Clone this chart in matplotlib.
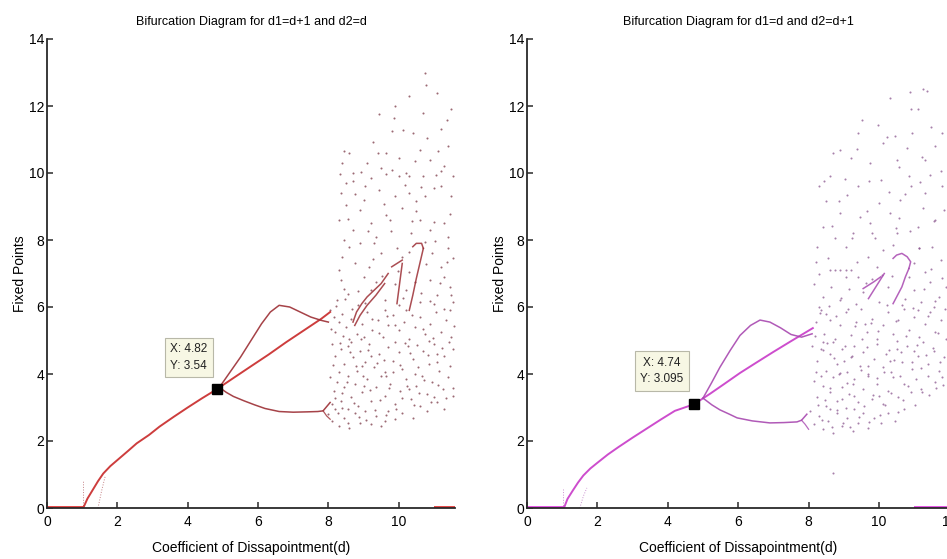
import matplotlib.pyplot as plt
import numpy as np

plt.rcParams['font.family'] = ['Liberation Sans', 'DejaVu Sans']

# ---- left panel data (d1=d+1, d2=d) ----
L_zero_x = [[0.0, 1.03], [11.0, 11.6]]
L_main_x = [1.03, 1.15, 1.3, 1.45, 1.6, 1.8, 2.0, 2.3, 2.55, 2.9, 3.2, 3.6, 4.0, 4.4, 4.82, 5.3, 5.77, 6.3, 6.8, 7.3, 7.8, 8.05]
L_main_y = [0.0, 0.28, 0.54, 0.8, 1.03, 1.25, 1.43, 1.7, 1.93, 2.18, 2.43, 2.72, 3.0, 3.27, 3.54, 3.88, 4.21, 4.58, 4.95, 5.3, 5.65, 5.85]
L_up_x = [4.9, 5.2, 5.5, 5.8, 6.1, 6.35, 6.6, 6.9, 7.2, 7.5, 7.8, 8.0]
L_up_y = [3.6, 4.05, 4.5, 5.0, 5.5, 5.85, 6.05, 6.0, 5.85, 5.7, 5.6, 5.55]
L_lo_x = [4.9, 5.1, 5.3, 5.6, 5.9, 6.2, 6.6, 7.0, 7.4, 7.7, 7.85, 8.05]
L_lo_y = [3.6, 3.45, 3.33, 3.2, 3.08, 2.97, 2.88, 2.86, 2.87, 2.88, 2.9, 3.15]
L_lo2_x = [7.85, 7.95, 8.05]
L_lo2_y = [2.9, 2.75, 2.65]
L_win = [
    ([8.7, 8.8, 8.95, 9.1, 9.3, 9.5, 9.7], [5.55, 5.85, 6.1, 6.3, 6.5, 6.7, 7.0]),
    ([8.75, 8.9, 9.1, 9.35, 9.6], [5.45, 5.75, 6.05, 6.35, 6.7]),
    ([9.8, 9.95, 10.1], [7.2, 7.3, 7.4]),
    ([10.1, 10.05, 10.0, 9.95], [7.3, 6.9, 6.5, 6.1]),
    ([10.4, 10.5, 10.65, 10.7], [7.8, 7.9, 7.9, 7.75]),
    ([10.7, 10.6, 10.5, 10.4, 10.3], [7.75, 7.3, 6.85, 6.35, 5.9]),
]
L_dot1 = ([1.03, 1.03], [0.0, 0.85])
L_dot2 = ([1.45, 1.55, 1.65], [0.0, 0.5, 0.93])
L_cloud = [
    (10.75, 13.0), (11.1, 12.4), (10.3, 12.3), (10.7, 11.8), (9.8, 11.25), (10.4, 11.2), (11.2, 11.3), (10.8, 11.05),
    (10.6, 10.7), (8.6, 10.6), (8.45, 10.65), (9.65, 10.6), (9.4, 10.6), (11.4, 10.8), (10.0, 10.45), (9.1, 10.3),
    (8.4, 10.3), (10.9, 10.4), (11.5, 11.9), (9.9, 12.0), (11.3, 10.2), (10.2, 10.0), (8.7, 10.0), (9.5, 10.15),
    (8.5, 9.7), (8.7, 9.75), (9.2, 9.85), (9.8, 10.1), (10.0, 9.9), (10.3, 9.9), (10.7, 9.9), (11.2, 10.05),
    (11.2, 9.6), (11.0, 9.55), (10.3, 9.4), (9.9, 9.3), (9.0, 9.2), (8.5, 9.05), (9.65, 8.75), (9.75, 8.6),
    (9.2, 8.5), (8.3, 8.6), (8.7, 8.3), (10.6, 8.6), (11.0, 8.55), (11.3, 8.5), (10.9, 8.3), (8.35, 9.4),
    (9.45, 9.5), (10.5, 9.15), (11.5, 9.3), (8.9, 8.9), (10.1, 8.95), (11.4, 8.1), (10.35, 8.2), (9.35, 8.1),
    (8.45, 8.0), (11.55, 9.9), (10.75, 9.3), (9.05, 9.6),
    (8.9, 7.9), (9.3, 7.9), (9.95, 7.75), (8.4, 7.5), (10.1, 7.5), (11.4, 7.75), (8.75, 7.3), (9.5, 7.6),
    (10.95, 7.6), (11.2, 7.2), (8.3, 7.1), (9.15, 7.2), (10.3, 7.05), (11.55, 7.45), (8.6, 7.8), (10.75, 7.95),
    (8.35, 6.8), (8.55, 6.4), (8.25, 6.2), (9.0, 6.9), (9.2, 6.5), (9.9, 6.7), (10.2, 6.5), (10.9, 6.8),
    (11.1, 6.35), (11.45, 6.6), (10.6, 6.15), (9.6, 6.2), (8.85, 6.05), (11.3, 6.9), (10.0, 6.05), (9.35, 6.75),
    (11.0, 6.1), (11.55, 6.15), (8.45, 6.55), (10.45, 6.75),
    (8.05, 5.9), (8.15, 5.7), (8.3, 5.55), (8.4, 5.8), (8.5, 5.4), (8.65, 5.65), (8.8, 5.2), (8.95, 5.5),
    (9.1, 5.85), (9.25, 5.3), (9.4, 5.6), (9.55, 5.1), (9.7, 5.45), (9.85, 5.75), (10.0, 5.3), (10.15, 5.55),
    (10.3, 5.05), (10.45, 5.4), (10.6, 5.7), (10.75, 5.2), (10.9, 5.5), (11.05, 5.85), (11.2, 5.25), (11.35, 5.6),
    (11.5, 5.1), (8.2, 5.25), (8.6, 5.05), (9.0, 5.1), (9.6, 5.9), (10.2, 5.9), (10.85, 5.0), (11.45, 5.9),
    (8.1, 4.9), (8.2, 4.55), (8.35, 4.75), (8.45, 4.3), (8.55, 4.85), (8.7, 4.5), (8.8, 4.1), (8.9, 4.7),
    (9.05, 4.35), (9.15, 4.9), (9.3, 4.2), (9.45, 4.6), (9.6, 4.05), (9.7, 4.8), (9.85, 4.4), (10.0, 4.65),
    (10.1, 4.15), (10.25, 4.85), (10.4, 4.45), (10.55, 4.2), (10.7, 4.7), (10.85, 4.3), (11.0, 4.9), (11.15, 4.1),
    (11.3, 4.55), (11.45, 4.25), (11.55, 4.75), (8.3, 4.05), (8.65, 4.95), (9.2, 4.55), (9.9, 4.95), (10.45, 4.0),
    (11.1, 4.6), (8.95, 4.25),
    (8.05, 3.9), (8.15, 3.5), (8.25, 3.75), (8.35, 3.2), (8.45, 3.6), (8.55, 3.95), (8.65, 3.3), (8.75, 3.7),
    (8.85, 3.05), (8.95, 3.45), (9.1, 3.85), (9.2, 3.2), (9.35, 3.6), (9.5, 3.95), (9.6, 3.35), (9.75, 3.7),
    (9.9, 3.1), (10.05, 3.5), (10.2, 3.85), (10.35, 3.25), (10.5, 3.65), (10.65, 3.95), (10.8, 3.4), (10.95, 3.75),
    (11.1, 3.15), (11.25, 3.55), (11.4, 3.9), (11.55, 3.35), (8.4, 3.0), (9.0, 3.65), (9.65, 3.95), (10.3, 3.55),
    (11.0, 3.3), (8.1, 3.1), (10.6, 3.05),
    (8.0, 2.8), (8.1, 2.6), (8.2, 2.95), (8.3, 2.45), (8.45, 2.7), (8.6, 2.4), (8.75, 2.85), (8.9, 2.55),
    (9.05, 2.9), (9.2, 2.5), (9.35, 2.75), (9.5, 2.45), (9.7, 2.9), (9.9, 2.65), (10.1, 2.85), (10.4, 2.7),
    (10.8, 2.9), (11.3, 2.95), (8.55, 2.95), (9.6, 2.6),
    (8.07, 5.33), (8.12, 4.27), (8.18, 3.27), (8.22, 6.03), (8.27, 2.83), (8.32, 4.93), (8.38, 3.43), (8.42, 5.13),
    (8.48, 6.23), (8.52, 3.77), (8.57, 2.53), (8.62, 4.67), (8.68, 5.93), (8.72, 3.13), (8.78, 4.23), (8.83, 6.47),
    (8.87, 2.73), (8.93, 5.03), (8.98, 3.93), (9.03, 6.13), (9.08, 2.63), (9.13, 4.73), (9.18, 3.53), (9.23, 5.63),
    (9.28, 7.43), (9.33, 2.93), (9.38, 4.33), (9.43, 5.23), (9.48, 3.23), (9.53, 6.93), (9.58, 4.43), (9.63, 2.77),
    (9.68, 5.73), (9.73, 3.57), (9.78, 8.27), (9.83, 4.07), (9.88, 5.47), (9.93, 2.97), (9.98, 7.07), (10.03, 4.27),
    (10.08, 3.27), (10.13, 6.27), (10.18, 4.93), (10.23, 3.63), (10.28, 7.63), (10.33, 4.63), (10.38, 5.77), (10.43, 3.07),
    (10.48, 8.87), (10.53, 4.87), (10.58, 3.43), (10.63, 6.43), (10.68, 5.33), (10.73, 3.83), (10.78, 7.27), (10.83, 4.57),
    (10.88, 6.17), (10.93, 3.17), (10.98, 5.07), (11.03, 7.97), (11.08, 4.37), (11.13, 3.67), (11.18, 6.73), (11.23, 4.77),
    (11.28, 5.93), (11.33, 3.27), (11.38, 7.33), (11.43, 4.97), (11.48, 6.37), (11.53, 3.57), (11.58, 5.43),
    (8.33, 9.97), (8.77, 9.37), (9.27, 10.93), (9.57, 9.07), (9.87, 11.63), (10.17, 9.63), (10.47, 10.37), (10.77, 12.63),
    (11.07, 9.93), (11.37, 11.57), (8.57, 8.63), (9.13, 8.27), (9.63, 9.97), (10.13, 11.27), (10.63, 9.57), (11.13, 10.67),
    (11.47, 8.77), (8.93, 10.03), (10.37, 8.57), (9.43, 11.77),
]
L_tip = (4.82, 3.54)

# ---- right panel data (d1=d, d2=d+1) ----
R_zero_x = [[0.0, 1.05], [11.0, 12.0]]
R_main_x = [1.05, 1.15, 1.3, 1.45, 1.6, 1.8, 2.0, 2.3, 2.6, 3.0, 3.4, 3.8, 4.2, 4.74, 5.2, 5.6, 6.05, 6.5, 7.0, 7.5, 8.12]
R_main_y = [0.0, 0.27, 0.52, 0.76, 0.97, 1.18, 1.35, 1.6, 1.82, 2.1, 2.37, 2.64, 2.9, 3.095, 3.41, 3.7, 4.03, 4.33, 4.66, 4.98, 5.37]
R_up_x = [5.0, 5.25, 5.48, 5.77, 6.05, 6.35, 6.62, 6.9, 7.2, 7.5, 7.8, 8.1]
R_up_y = [3.28, 3.75, 4.2, 4.7, 5.15, 5.45, 5.61, 5.55, 5.38, 5.18, 5.1, 5.2]
R_lo_x = [5.0, 5.25, 5.48, 5.75, 5.97, 6.4, 6.9, 7.3, 7.67, 7.8, 7.95]
R_lo_y = [3.28, 3.08, 2.93, 2.8, 2.69, 2.6, 2.54, 2.55, 2.57, 2.62, 2.8]
R_lo2_x = [7.8, 7.9, 8.0]
R_lo2_y = [2.62, 2.5, 2.35]
R_win = [
    ([9.7, 9.85, 10.0, 10.15], [6.25, 6.5, 6.75, 7.0]),
    ([9.55, 9.7, 9.85, 10.05], [6.55, 6.65, 6.75, 6.9]),
    ([10.4, 10.5, 10.65, 10.8, 10.9, 10.85], [7.45, 7.55, 7.6, 7.5, 7.35, 7.15]),
    ([10.85, 10.75, 10.65, 10.5, 10.4], [7.15, 6.9, 6.6, 6.3, 6.1]),
]
R_dot1 = ([1.02, 1.02], [0.0, 0.6])
R_dot2 = ([1.5, 1.6, 1.7], [0.0, 0.35, 0.6])
R_cloud = [
    (11.25, 12.5), (10.3, 12.25), (10.9, 11.9), (11.1, 11.9), (11.35, 12.45), (9.4, 11.2), (10.45, 11.1), (10.95, 11.2),
    (11.8, 11.2), (8.9, 10.7), (8.7, 10.6), (9.75, 10.3), (10.5, 10.4), (11.3, 10.4), (10.1, 10.9), (11.6, 10.8),
    (9.2, 10.45), (10.8, 10.75),
    (8.6, 9.9), (8.3, 9.6), (9.4, 9.6), (10.05, 9.8), (10.85, 9.9), (10.9, 9.6), (11.3, 9.4), (11.8, 9.6),
    (8.9, 8.8), (9.45, 8.7), (9.75, 8.5), (10.3, 8.8), (9.25, 8.2), (9.8, 8.2), (10.5, 8.2), (11.1, 8.4),
    (11.6, 8.6), (8.5, 9.15), (9.1, 9.35), (10.6, 9.2), (11.45, 9.95), (8.4, 8.4), (10.0, 9.1), (11.85, 8.9),
    (8.75, 8.05), (11.25, 8.95),
    (8.25, 7.8), (9.05, 7.8), (10.1, 7.7), (11.5, 7.8), (8.3, 7.0), (9.4, 6.9), (8.6, 7.1), (8.75, 7.1),
    (8.9, 7.1), (9.05, 7.1), (9.2, 7.1), (8.55, 7.45), (9.7, 7.5), (11.0, 7.3), (11.3, 7.05), (11.75, 7.4),
    (9.95, 7.2), (11.15, 7.75), (8.2, 7.35), (10.4, 7.85),
    (8.15, 6.7), (8.4, 6.3), (8.65, 6.6), (8.9, 6.2), (9.15, 6.55), (9.35, 6.1), (9.55, 6.45), (10.0, 6.15),
    (10.25, 6.6), (10.65, 6.05), (11.0, 6.5), (11.2, 6.15), (11.45, 6.75), (11.7, 6.3), (11.9, 6.6), (8.3, 6.0),
    (9.8, 6.85), (10.85, 6.9), (9.05, 6.9), (11.55, 6.0),
    (8.2, 5.55), (8.35, 5.9), (8.45, 5.2), (8.6, 5.6), (8.75, 5.05), (8.9, 5.45), (9.05, 5.85), (9.2, 5.15),
    (9.35, 5.55), (9.5, 5.95), (9.65, 5.25), (9.8, 5.65), (9.95, 5.05), (10.1, 5.45), (10.25, 5.85), (10.4, 5.2),
    (10.55, 5.6), (10.7, 5.95), (10.85, 5.3), (11.0, 5.7), (11.15, 5.1), (11.3, 5.5), (11.45, 5.85), (11.6, 5.25),
    (11.75, 5.6), (11.9, 5.05), (8.5, 5.8), (9.6, 5.5), (10.5, 5.0), (11.1, 5.9),
    (8.1, 4.85), (8.25, 4.4), (8.35, 4.75), (8.5, 4.1), (8.6, 4.6), (8.7, 4.95), (8.8, 4.3), (8.95, 4.75),
    (9.1, 4.05), (9.2, 4.5), (9.3, 4.85), (9.45, 4.25), (9.55, 4.65), (9.7, 4.0), (9.85, 4.45), (9.95, 4.9),
    (10.1, 4.2), (10.2, 4.6), (10.35, 4.05), (10.5, 4.75), (10.65, 4.35), (10.8, 4.85), (10.95, 4.15), (11.1, 4.55),
    (11.25, 4.95), (11.4, 4.3), (11.55, 4.7), (11.7, 4.1), (11.85, 4.5), (8.4, 4.95), (9.0, 4.4), (9.65, 4.8),
    (10.3, 4.4), (8.85, 4.0), (11.0, 4.7),
    (8.15, 3.8), (8.25, 3.3), (8.4, 3.65), (8.5, 3.05), (8.6, 3.45), (8.7, 3.9), (8.8, 3.2), (8.95, 3.6),
    (9.05, 3.0), (9.15, 3.4), (9.3, 3.85), (9.4, 3.15), (9.55, 3.55), (9.7, 3.95), (9.8, 3.25), (9.95, 3.7),
    (10.1, 3.1), (10.25, 3.5), (10.4, 3.9), (10.55, 3.3), (10.7, 3.7), (10.9, 3.45), (11.05, 3.85), (11.2, 3.55),
    (11.4, 3.95), (11.6, 3.75), (11.8, 3.9), (8.35, 3.95), (9.25, 3.7), (10.0, 3.35), (10.6, 3.95), (8.95, 3.25),
    (8.05, 2.9), (8.15, 2.5), (8.3, 2.75), (8.4, 2.35), (8.55, 2.6), (8.7, 2.25), (8.8, 2.85), (8.95, 2.45),
    (9.1, 2.7), (9.25, 2.3), (9.4, 2.55), (9.55, 2.85), (9.7, 2.4), (9.85, 2.7), (10.05, 2.55), (10.25, 2.85),
    (10.45, 2.6), (10.7, 2.95), (8.6, 2.95), (9.3, 2.95), (8.7, 1.05),
    (8.17, 5.13), (8.22, 4.07), (8.28, 3.07), (8.32, 5.83), (8.37, 2.63), (8.42, 4.73), (8.48, 3.23), (8.52, 4.93),
    (8.58, 6.03), (8.62, 3.57), (8.67, 2.43), (8.72, 4.47), (8.78, 5.73), (8.82, 2.93), (8.88, 4.03), (8.93, 6.27),
    (8.97, 2.53), (9.03, 4.83), (9.08, 3.73), (9.13, 5.93), (9.18, 2.43), (9.23, 4.53), (9.28, 3.33), (9.33, 5.43),
    (9.38, 7.33), (9.43, 2.73), (9.48, 4.13), (9.53, 5.03), (9.58, 3.03), (9.63, 6.73), (9.68, 4.23), (9.73, 2.57),
    (9.78, 5.53), (9.83, 3.37), (9.88, 8.07), (9.93, 3.87), (9.98, 5.27), (10.03, 2.77), (10.08, 6.97), (10.13, 4.07),
    (10.18, 3.07), (10.23, 6.07), (10.28, 4.73), (10.33, 3.43), (10.38, 6.93), (10.43, 4.43), (10.48, 5.57), (10.53, 2.87),
    (10.58, 8.67), (10.63, 4.67), (10.68, 3.23), (10.73, 6.23), (10.78, 5.13), (10.83, 3.63), (10.88, 8.27), (10.93, 4.37),
    (10.98, 5.97), (11.03, 3.07), (11.08, 4.87), (11.13, 7.77), (11.18, 4.17), (11.23, 3.47), (11.28, 6.53), (11.33, 4.57),
    (11.38, 5.73), (11.43, 3.37), (11.48, 7.13), (11.53, 4.77), (11.58, 6.17), (11.63, 3.57), (11.68, 5.23), (11.73, 4.37),
    (11.78, 6.87), (11.83, 3.67), (11.88, 5.93),
    (8.43, 9.77), (8.87, 9.17), (9.37, 10.73), (9.67, 8.87), (9.97, 11.43), (10.27, 9.43), (10.57, 10.17), (10.87, 12.43),
    (11.17, 9.73), (11.47, 11.37), (8.67, 8.43), (9.23, 8.07), (9.73, 9.77), (10.23, 11.07), (10.73, 9.37), (11.23, 10.47),
    (11.57, 8.57), (9.03, 9.83), (10.47, 8.37), (9.53, 11.57), (11.77, 10.07),
]
R_tip = (4.74, 3.095)

titles = ['Bifurcation Diagram for d1=d+1 and d2=d', 'Bifurcation Diagram for d1=d and d2=d+1']
xlabel = 'Coefficient of Dissapointment(d)'
ylabel = 'Fixed Points'

W, H = 947, 559
fig = plt.figure(figsize=(W / 100, H / 100), dpi=100)
axL = fig.add_axes([47 / W, 51 / H, 408 / W, 469 / H])
axR = fig.add_axes([527 / W, 51 / H, 422.4 / W, 469 / H])


def draw(ax, zero_x, main, up, lo, lo2, wins, dots, cloud, tip, cz, cm, cb, cd, xmax, xticks, title, tip_off):
    for zx in zero_x:
        ax.plot(zx, [0, 0], color=cz, lw=2.6, solid_capstyle='butt', zorder=2)
    ax.plot(dots[0][0], dots[0][1], color=cb, lw=0.7, ls=':', alpha=0.6)
    ax.plot(dots[1][0], dots[1][1], color=cb, lw=0.7, ls=':', alpha=0.6)
    ax.plot(main[0], main[1], color=cm, lw=1.4, alpha=0.9)
    ax.plot(up[0], up[1], color=cb, lw=1.1, alpha=0.9)
    ax.plot(lo[0], lo[1], color=cb, lw=1.1, alpha=0.9)
    ax.plot(lo2[0], lo2[1], color=cb, lw=0.9, alpha=0.8)
    for wx, wy in wins:
        ax.plot(wx, wy, color=cb, lw=1.1, alpha=0.85)
    cx = [p[0] for p in cloud]
    cy = [p[1] for p in cloud]
    ax.scatter(cx, cy, s=2.2, color=cd, linewidths=0, alpha=0.75)
    ax.plot([tip[0]], [tip[1]], marker='s', ms=7, color='black', zorder=5)
    ax.annotate(f'X: {tip[0]:g}\nY: {tip[1]:g}', xy=tip, xytext=tip_off, textcoords='offset points',
                ha='center', va='center', fontsize=8.5, linespacing=1.5, color='#222222',
                bbox=dict(boxstyle='square,pad=0.45', fc='#f7f7e4', ec='#b8b8a8', lw=0.8), zorder=6)
    ax.set_xlim(0, xmax)
    ax.set_ylim(0, 14)
    ax.set_xticks(xticks)
    ax.set_yticks(np.arange(0, 15, 2))
    for s in ['top', 'right']:
        ax.spines[s].set_visible(False)
    for s in ['left', 'bottom']:
        ax.spines[s].set_color('#2a2a2a')
        ax.spines[s].set_linewidth(1.3)
        ax.spines[s].set_zorder(3)
    ax.tick_params(direction='in', length=4, width=1.1, color='#2a2a2a', labelsize=10, pad=2)
    ax.tick_params(axis='x', pad=5)
    ax.set_title(title, fontsize=9, pad=10)
    ax.set_xlabel(xlabel, fontsize=10, labelpad=9)
    ax.set_ylabel(ylabel, fontsize=10, labelpad=1)


draw(axL, L_zero_x, (L_main_x, L_main_y), (L_up_x, L_up_y), (L_lo_x, L_lo_y), (L_lo2_x, L_lo2_y),
     L_win, (L_dot1, L_dot2), L_cloud, L_tip, '#e02020', '#c82828', '#9c2e34', '#7a3846', 11.6,
     [0, 2, 4, 6, 8, 10], titles[0], (-20, 23))
draw(axR, R_zero_x, (R_main_x, R_main_y), (R_up_x, R_up_y), (R_lo_x, R_lo_y), (R_lo2_x, R_lo2_y),
     R_win, (R_dot1, R_dot2), R_cloud, R_tip, '#e030e0', '#c83ac8', '#a848b0', '#8a568e', 12.0,
     [0, 2, 4, 6, 8, 10, 12], titles[1], (-23, 24))

fig.savefig('out.png', dpi=100)
